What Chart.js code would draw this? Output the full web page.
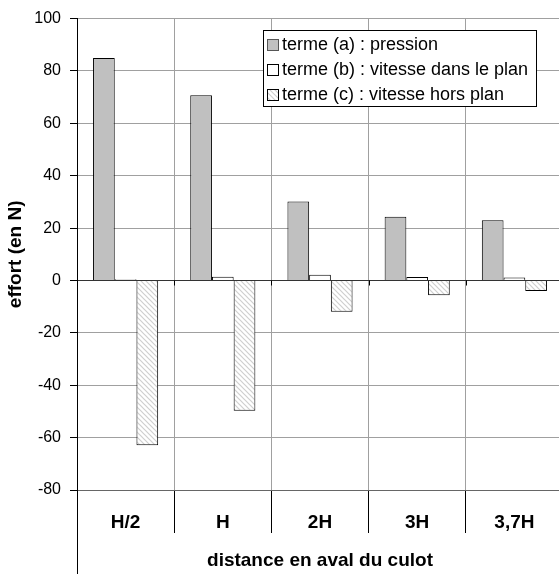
<!DOCTYPE html>
<html>
<head>
<meta charset="utf-8">
<script src="https://cdn.jsdelivr.net/npm/chart.js@4.4.1/dist/chart.umd.min.js"></script>
<style>
  html, body { margin: 0; padding: 0; background: #fff; overflow: hidden; }
  #wrap { width: 563px; height: 574px; }
</style>
</head>
<body>
<div id="wrap"><canvas id="graphique" width="563" height="574"></canvas></div>
<script>
// valeurs
const distances = ["H/2", "H", "2H", "3H", "3,7H"];
const termeA = [85, 70.7, 30.2, 24.3, 23];
const termeB = [0.5, 1.4, 2.2, 1.3, 1.1];
const termeC = [-62.9, -49.7, -11.9, -5.6, -4];
const nomsSeries = ["terme (a) : pression", "terme (b) : vitesse dans le plan", "terme (c) : vitesse hors plan"];
const ticksY = [-80, -60, -40, -20, 0, 20, 40, 60, 80, 100];

// motif hachuré pour le terme (c)
function motifHachure() {
  const c = document.createElement("canvas");
  c.width = 5;
  c.height = 5;
  const g = c.getContext("2d");
  g.fillStyle = "#fff";
  g.fillRect(0, 0, 5, 5);
  g.strokeStyle = "#cfcfcf";
  g.lineWidth = 1.2;
  g.beginPath();
  g.moveTo(-1, -1); g.lineTo(6, 6);
  g.moveTo(-1, 4); g.lineTo(1, 6);
  g.moveTo(4, -1); g.lineTo(6, 1);
  g.stroke();
  return g.createPattern(c, "repeat");
}
const hachure = motifHachure();

// légende dessinée dans le cadre du graphique
const legendePlugin = {
  id: "legendeCadre",
  afterDraw(chart) {
    const ctx = chart.ctx;
    const x = 263, y = 30, w = 273, h = 76;
    ctx.save();
    ctx.fillStyle = "#fff";
    ctx.fillRect(x, y, w, h);
    ctx.strokeStyle = "#000";
    ctx.lineWidth = 1;
    ctx.strokeRect(x + 0.5, y + 0.5, w, h);
    ctx.font = "18px 'Liberation Sans', Arial, sans-serif";
    ctx.textBaseline = "middle";
    chart.data.datasets.forEach((ds, i) => {
      const cy = y + 14.5 + i * 25;
      ctx.fillStyle = ds.backgroundColor;
      ctx.fillRect(x + 4, cy - 5.5, 11, 11);
      ctx.strokeStyle = i === 0 ? "#555" : "#000";
      ctx.strokeRect(x + 4.5, cy - 5, 11, 11);
      ctx.fillStyle = "#000";
      ctx.fillText(ds.label, x + 19, cy + 1);
    });
    ctx.restore();
  }
};

// prolongement de l'axe vertical et petites graduations sur la ligne zéro
const axesPlugin = {
  id: "axesExtra",
  afterDraw(chart) {
    const ctx = chart.ctx;
    const xs = chart.scales.x, ys = chart.scales.y;
    const ca = chart.chartArea;
    ctx.save();
    ctx.strokeStyle = "#000";
    ctx.lineWidth = 1;
    ctx.beginPath();
    ctx.moveTo(Math.round(ca.left) + 0.5, ca.bottom);
    ctx.lineTo(Math.round(ca.left) + 0.5, chart.height);
    const y0 = Math.round(ys.getPixelForValue(0)) + 0.5;
    const larg = xs.width / distances.length;
    for (let i = 1; i < distances.length; i++) {
      const xx = Math.round(xs.left + i * larg) + 0.5;
      ctx.moveTo(xx, y0);
      ctx.lineTo(xx, y0 + 5);
    }
    ctx.stroke();
    ctx.restore();
  }
};

new Chart(document.getElementById("graphique"), {
  type: "bar",
  data: {
    labels: distances,
    datasets: [
      { label: nomsSeries[0], data: termeA, backgroundColor: "#c0c0c0", borderColor: "#000", borderWidth: 1 },
      { label: nomsSeries[1], data: termeB, backgroundColor: "#fff", borderColor: "#000", borderWidth: 1 },
      { label: nomsSeries[2], data: termeC, backgroundColor: hachure, borderColor: "#000", borderWidth: 1 }
    ]
  },
  options: {
    responsive: false,
    animation: false,
    devicePixelRatio: 1,
    layout: { padding: { top: 17, right: 0, left: 0, bottom: 0 } },
    datasets: { bar: { categoryPercentage: 0.67, barPercentage: 1 } },
    plugins: {
      legend: { display: false },
      tooltip: { enabled: false }
    },
    scales: {
      x: {
        afterFit: s => { s.height = 84; },
        grid: {
          offset: true,
          color: "#a0a0a0",
          tickColor: "#000",
          tickLength: 43,
          lineWidth: 1
        },
        border: { color: "#666", width: 1 },
        ticks: {
          padding: -22,
          color: "#000",
          font: { family: "'Liberation Sans', Arial, sans-serif", size: 19, weight: "bold" }
        },
        title: {
          display: true,
          text: "distance en aval du culot",
          color: "#000",
          padding: { top: 2, bottom: 2 },
          font: { family: "'Liberation Sans', Arial, sans-serif", size: 19, weight: "bold" }
        }
      },
      y: {
        min: -80,
        max: 100,
        afterFit: s => { s.width = 77; },
        afterBuildTicks: s => { s.ticks = ticksY.map(v => ({ value: v })); },
        grid: {
          color: c => (c.tick && c.tick.value === 0 ? "#333" : "#a0a0a0"),
          tickColor: "#000",
          tickLength: 7,
          lineWidth: 1
        },
        border: { color: "#000", width: 1 },
        ticks: {
          padding: 9,
          color: "#000",
          font: { family: "'Liberation Sans', Arial, sans-serif", size: 16 }
        },
        title: {
          display: true,
          text: "effort (en N)",
          color: "#000",
          padding: { top: 4, bottom: 4 },
          font: { family: "'Liberation Sans', Arial, sans-serif", size: 19, weight: "bold" }
        }
      }
    }
  },
  plugins: [legendePlugin, axesPlugin]
});
</script>
</body>
</html>
